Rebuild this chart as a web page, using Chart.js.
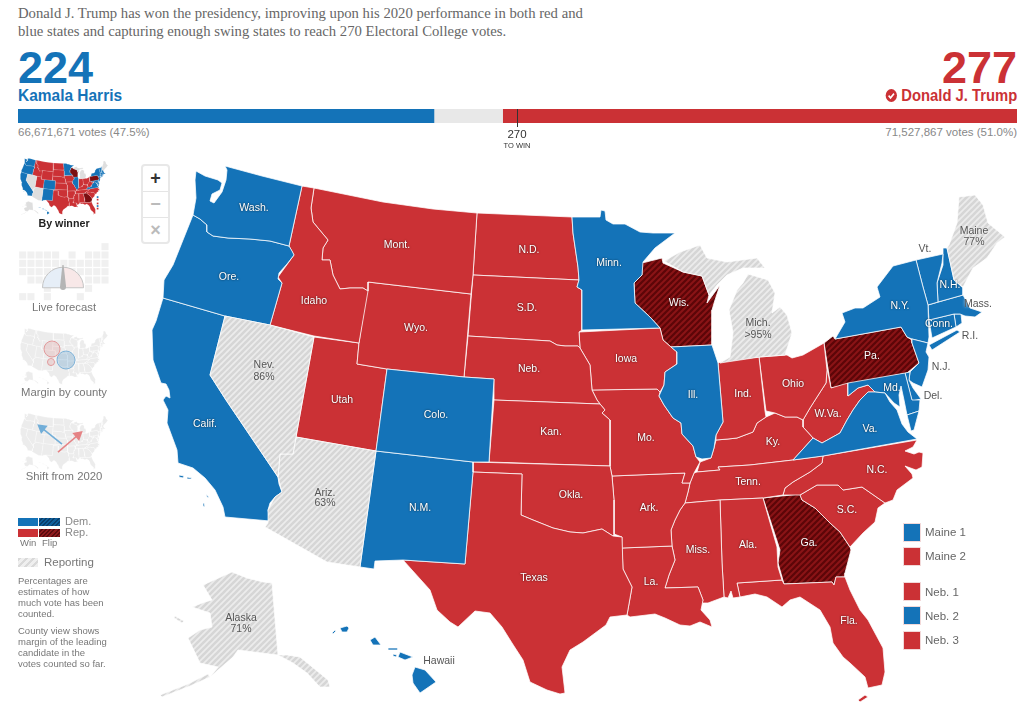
<!DOCTYPE html>
<html><head><meta charset="utf-8">
<script src="https://cdn.jsdelivr.net/npm/chart.js@4/dist/chart.umd.min.js"></script>
<style>
html,body{margin:0;padding:0;background:#fff;width:1031px;height:723px;overflow:hidden;font-family:"Liberation Sans",Arial,sans-serif}
.a{position:absolute;white-space:nowrap}
canvas{position:absolute;display:block}
.lede{left:18px;top:4px;font:14.7px/18px "Liberation Serif",serif;color:#666}
.big{font-weight:700;font-size:45px;line-height:40px;top:48px}
.name{font-weight:700;font-size:17px;line-height:18px;top:87px}
.votes{font-size:11.5px;line-height:14px;top:125px;color:#888}
.cap{font-size:11.3px;color:#777;transform:translateX(-50%);line-height:14px}
.sm{font-size:9.5px;line-height:10.9px;color:#777;left:18px}
.sw{position:absolute;width:16px;height:17px;outline:1px solid #f2d9d9}
.sl{font-size:11.5px;color:#666;left:925px;line-height:14px}
.ctl{left:141px;top:164px;width:25px;height:76px;border:2px solid #e8e8e8;border-radius:4px;background:#fff}
.ctl div{height:25px;line-height:24px;text-align:center;border-bottom:1px solid #e5e5e5;font-weight:700;color:#bbb;font-size:18px}
.ctl div:last-child{border:0}
.hd{background:repeating-linear-gradient(135deg,#0f5f9b 0 1.5px,#0b3f6b 1.5px 3px)}
.hr{background:repeating-linear-gradient(135deg,#8e1a1d 0 1.5px,#5a0b0d 1.5px 3px)}
.hg{background:repeating-linear-gradient(135deg,#d9d9d9 0 2.5px,#efefef 2.5px 5px)}
</style></head><body>
<div class="a lede">Donald J. Trump has won the presidency, improving upon his 2020 performance in both red and<br>blue states and capturing enough swing states to reach 270 Electoral College votes.</div>
<div class="a big" style="left:18px;color:#1473b8">224</div>
<div class="a big" style="right:14px;color:#cb3135">277</div>
<div class="a name" style="left:18px;color:#1473b8;transform:scaleX(.91);transform-origin:left">Kamala Harris</div>
<div class="a name" style="right:14px;color:#cb3135;transform:scaleX(.87);transform-origin:right"><svg width="15" height="13" viewBox="0 0 13 13" style="vertical-align:-1px;margin-right:4px"><circle cx="6.5" cy="6.5" r="6.5" fill="#cb3135"/><path d="M3.4 6.7l2.2 2.2 4-4.2" stroke="#fff" stroke-width="1.8" fill="none"/></svg>Donald J. Trump</div>
<canvas id="bar" width="999" height="14" style="left:18px;top:109px"></canvas>
<div class="a" style="left:517px;top:109px;width:1px;height:18px;background:#333"></div>
<div class="a votes" style="left:18px">66,671,671 votes (47.5%)</div>
<div class="a votes" style="right:14px">71,527,867 votes (51.0%)</div>
<div class="a" style="left:517px;top:127px;font-size:11.5px;line-height:14px;color:#333;transform:translateX(-50%)">270</div>
<div class="a" style="left:517px;top:141px;font-size:7.5px;line-height:10px;color:#333;transform:translateX(-50%)">TO WIN</div>

<canvas id="map" width="1031" height="723" style="left:0;top:0"></canvas>
<canvas id="t1" width="88" height="57" style="left:20px;top:158px"></canvas>
<div class="a cap" style="left:64px;top:216px;color:#222;font-weight:700;font-size:10.7px">By winner</div>
<canvas id="t2" width="100" height="62" style="left:15px;top:240px"></canvas>
<canvas id="g" width="46" height="26" style="left:40px;top:264px"></canvas>
<div class="a cap" style="left:64px;top:300px">Live forecast</div>
<canvas id="t3" width="88" height="57" style="left:20px;top:328px"></canvas>
<div class="a cap" style="left:64px;top:385px">Margin by county</div>
<canvas id="t4" width="88" height="57" style="left:20px;top:413px"></canvas>
<div class="a cap" style="left:64px;top:469px">Shift from 2020</div>

<div class="a" style="left:18px;top:518px;width:20px;height:8px;background:#1473b8"></div>
<div class="a hd" style="left:39px;top:518px;width:21px;height:8px"></div>
<div class="a" style="left:18px;top:529px;width:20px;height:8px;background:#cb3135"></div>
<div class="a hr" style="left:39px;top:529px;width:21px;height:8px"></div>
<div class="a sm" style="left:65px;top:516px;font-size:11px;color:#888">Dem.</div>
<div class="a sm" style="left:65px;top:527px;font-size:11px;color:#888">Rep.</div>
<div class="a sm" style="left:20px;top:538px">Win</div>
<div class="a sm" style="left:42px;top:538px">Flip</div>
<div class="a hg" style="left:18px;top:558px;width:20px;height:9px"></div>
<div class="a sm" style="left:44px;top:556px;font-size:11.5px;line-height:13px">Reporting</div>
<div class="a sm" style="top:576px">Percentages are<br>estimates of how<br>much vote has been<br>counted.</div>
<div class="a sm" style="top:626px">County view shows<br>margin of the leading<br>candidate in the<br>votes counted so far.</div>

<div class="a ctl"><div style="color:#333">+</div><div>−</div><div>×</div></div>

<div class="sw" style="left:904px;top:524px;background:#1473b8"></div><div class="a sl" style="top:525px">Maine 1</div>
<div class="sw" style="left:904px;top:548px;background:#cb3135"></div><div class="a sl" style="top:549px">Maine 2</div>
<div class="sw" style="left:904px;top:583px;background:#cb3135"></div><div class="a sl" style="top:585px">Neb. 1</div>
<div class="sw" style="left:904px;top:607px;background:#1473b8"></div><div class="a sl" style="top:609px">Neb. 2</div>
<div class="sw" style="left:904px;top:632px;background:#cb3135"></div><div class="a sl" style="top:633px">Neb. 3</div>

<script>
// ---------- data ----------
const evCategories=['Harris','Not called','Trump'];
const evValues=[224,37,277];
const evColours=['#1473b8','#e8e8e8','#cb3135'];

const WA=[[225,166],[262,176],[302,186],[289,246],[270,241],[250,239],[228,238],[213,236],[207,232],[207,225],[200,219],[193,215],[196,198],[195,180],[196,171],[205,176],[218,180],[222,183],[220,190],[212,194],[210,201],[214,203],[222,192],[226,180],[227,170]];
const OR=[[193,215],[200,219],[207,225],[207,232],[213,236],[228,238],[250,239],[270,241],[289,246],[292,251],[294,255],[287,264],[279,273],[278,279],[282,283],[270,325],[225,316],[163,298],[164,280],[173,265],[183,240]];
const CA=[[163,298],[225,316],[210,375],[226,400],[278,477],[279,484],[282,492],[275,497],[270,503],[268,510],[270,521],[225,517],[223,507],[215,490],[205,478],[193,468],[178,463],[177,450],[167,423],[168,410],[163,400],[166,396],[170,398],[169,390],[166,384],[161,383],[153,360],[152,330],[156,321]];
const CA2=[[179,475],[184,476],[183,478],[179,477]];
const CA3=[[187,477],[192,478],[191,479],[187,479]];
const CA4=[[206,494],[208,496],[209,498],[207,497]];
const CA5=[[203,503],[204,503],[205,507],[203,506]];
const NV=[[225,316],[270,325],[314,337],[296,437],[293,454],[280,454],[278,477],[226,400],[210,375]];
const ID=[[302,186],[314,188],[311,208],[313,222],[328,240],[323,248],[322,260],[330,260],[333,275],[340,289],[350,288],[363,288],[368,291],[359,343],[314,336],[270,325],[282,283],[278,277],[294,255],[289,246]];
const MT=[[314,188],[383,202],[433,209],[477,213],[473,275],[471,294],[368,282],[368,291],[363,288],[350,288],[340,289],[333,275],[330,260],[322,260],[323,248],[328,240],[313,222],[311,208]];
const WY=[[368,282],[471,294],[464,377],[387,369],[357,364],[359,343]];
const UT=[[314,337],[359,343],[357,364],[387,369],[376,451],[296,437]];
const CO=[[387,369],[464,377],[494,379],[489,462],[473,462],[376,451]];
const AZ=[[296,437],[376,451],[360,567],[327,562],[265,527],[268,523],[268,510],[275,497],[282,492],[278,477],[280,454],[293,454]];
const NM=[[376,451],[473,462],[473,472],[465,564],[403,560],[375,561],[374,569],[360,567]];
const TX=[[473,472],[522,474],[521,515],[533,520],[553,528],[570,532],[583,533],[602,529],[613,536],[622,537],[623,569],[632,587],[627,615],[610,617],[606,625],[583,642],[570,650],[562,667],[565,693],[560,694],[547,690],[530,682],[523,660],[512,643],[502,627],[490,613],[475,611],[458,627],[450,622],[437,610],[430,590],[403,560],[465,564]];
const OK_=[[473,462],[610,466],[612,476],[614,500],[614,534],[613,536],[602,529],[583,533],[570,532],[553,528],[533,520],[521,515],[522,474],[473,472]];
const KS=[[494,400],[600,404],[605,410],[602,413],[610,420],[610,466],[489,462]];
const NE=[[468,336],[550,341],[557,345],[565,346],[578,346],[580,348],[590,365],[592,390],[597,400],[600,404],[494,400],[494,379],[464,377]];
const SD=[[473,275],[579,280],[577,287],[582,290],[582,330],[579,332],[580,348],[578,346],[565,346],[557,345],[550,341],[468,336]];
const ND=[[477,213],[572,217],[573,233],[578,267],[579,280],[473,275]];
const MN=[[572,217],[600,217],[601,210],[605,211],[606,220],[613,224],[625,224],[640,232],[653,233],[675,233],[655,248],[643,262],[642,275],[634,283],[635,303],[650,317],[660,328],[582,330],[582,290],[577,287],[579,280],[578,267],[573,233]];
const WI=[[642,263],[662,258],[663,263],[683,272],[702,276],[709,295],[707,303],[720,285],[715,300],[712,310],[712,345],[671,347],[663,340],[660,328],[650,317],[635,303],[634,283],[642,275]];
const IA=[[579,332],[660,328],[663,340],[671,347],[677,352],[677,364],[665,372],[664,385],[660,392],[657,389],[592,390],[590,365],[580,348]];
const IL=[[671,347],[712,345],[718,363],[722,410],[723,422],[716,435],[714,448],[711,458],[702,459],[696,457],[693,446],[682,434],[681,423],[673,418],[664,405],[659,396],[664,385],[665,372],[677,364],[677,352]];
const IN=[[718,363],[727,360],[759,357],[765,411],[766,417],[757,423],[753,432],[737,438],[728,439],[716,440],[716,435],[723,422],[722,410]];
const OH=[[759,357],[787,355],[792,358],[803,355],[824,343],[827,370],[826,383],[817,397],[810,408],[803,420],[797,417],[785,417],[775,413],[766,411]];
const MI_L=[[720,363],[760,357],[785,355],[792,333],[787,315],[780,307],[772,313],[775,293],[768,280],[748,274],[743,283],[737,290],[729,310],[733,333],[730,357]];
const MI_U=[[664,261],[680,252],[700,245],[707,258],[727,262],[757,258],[765,268],[743,268],[727,275],[717,285],[709,295],[702,276],[683,272]];
const MO=[[592,390],[657,389],[660,392],[659,396],[664,405],[673,418],[681,423],[682,434],[693,446],[696,457],[700,462],[694,473],[690,483],[682,483],[685,473],[612,476],[610,466],[610,420],[602,413],[605,410],[600,404],[597,400]];
const AR=[[612,476],[685,473],[682,483],[690,483],[688,492],[685,503],[680,510],[675,520],[671,530],[672,546],[622,548],[622,537],[614,534],[614,500]];
const LA=[[622,548],[672,546],[675,560],[669,575],[665,588],[698,587],[703,600],[701,610],[710,620],[712,627],[700,622],[690,626],[680,625],[665,618],[655,614],[630,617],[627,615],[632,587],[623,569]];
const MS=[[685,503],[720,500],[722,563],[724,597],[708,603],[702,603],[703,600],[698,587],[665,588],[669,575],[675,560],[672,546],[671,530],[675,520],[680,510]];
const AL=[[720,500],[763,498],[777,547],[778,567],[782,580],[737,583],[740,597],[733,598],[731,591],[728,598],[724,597],[722,563]];
const TN=[[694,473],[697,472],[720,470],[718,467],[750,465],[793,460],[823,456],[822,463],[810,472],[793,482],[785,488],[783,495],[763,498],[720,500],[685,503],[688,492],[690,483]];
const KY=[[700,462],[711,458],[714,448],[716,440],[728,439],[737,438],[753,432],[757,423],[766,417],[775,413],[785,417],[797,417],[803,420],[803,427],[813,438],[793,460],[750,465],[718,467],[720,470],[697,472]];
const WV=[[825,358],[831,388],[848,383],[848,396],[858,388],[868,385],[875,392],[868,392],[860,400],[853,410],[847,420],[840,433],[822,443],[813,438],[803,427],[803,420],[810,408],[817,397],[826,383],[827,370]];
const MD=[[848,383],[905,373],[912,400],[920,400],[919,411],[907,415],[904,400],[901,386],[899,395],[900,407],[894,403],[885,393],[875,392],[868,385],[858,388],[848,396]];
const VA=[[793,460],[813,438],[822,443],[840,433],[847,420],[853,410],[860,400],[868,392],[875,392],[885,393],[890,402],[897,410],[902,424],[908,432],[917,439],[823,456]];
const VA2=[[907,415],[919,411],[914,430],[911,431]];
const DE=[[905,373],[910,372],[909,380],[913,388],[921,399],[912,401]];
const NJ=[[912,339],[928,343],[926,352],[929,357],[928,370],[922,387],[913,383],[909,380],[910,372],[919,363],[912,343]];
const PA=[[824,343],[833,336],[835,339],[901,327],[907,337],[912,340],[912,343],[919,363],[907,373],[831,388]];
const NY=[[835,339],[845,322],[842,313],[855,308],[863,308],[880,297],[877,287],[893,266],[916,260],[923,287],[928,305],[929,337],[928,343],[912,339],[907,337],[901,327]];
const LI=[[929,345],[957,330],[960,332],[932,350]];
const VT=[[916,260],[943,254],[942,263],[937,283],[938,302],[928,305],[923,287]];
const NH=[[943,248],[947,248],[954,280],[963,288],[963,295],[938,302],[937,283],[943,265]];
const ME=[[947,248],[949,245],[957,223],[959,197],[975,195],[983,205],[988,223],[1005,237],[997,243],[987,258],[973,268],[963,287],[954,280]];
const MA=[[928,305],[963,295],[970,308],[982,312],[975,317],[965,316],[960,314],[954,314],[929,320]];
const CT=[[929,320],[954,314],[956,327],[932,338]];
const RI=[[954,314],[961,314],[962,323],[956,327]];
const NC=[[823,456],[917,440],[913,447],[905,451],[914,454],[919,452],[923,453],[922,467],[916,470],[905,466],[912,474],[913,478],[897,490],[893,500],[885,503],[862,487],[843,490],[838,485],[817,485],[800,495],[783,495],[785,488],[793,482],[810,472],[822,463]];
const SC=[[800,495],[817,485],[838,485],[843,490],[862,487],[885,503],[878,508],[875,522],[863,533],[850,547],[840,532],[830,523],[815,508],[802,500]];
const GA=[[763,498],[800,494],[802,500],[815,508],[830,523],[840,532],[850,547],[851,550],[845,573],[845,577],[836,577],[834,585],[832,582],[784,584],[778,563],[780,550]];
const FL=[[737,583],[782,580],[784,584],[832,582],[834,585],[836,577],[845,577],[850,590],[860,610],[868,620],[883,648],[885,672],[882,685],[868,688],[865,677],[850,663],[843,657],[833,643],[830,627],[820,610],[800,597],[790,600],[782,607],[767,597],[755,594],[740,597]];
const FK=[[858,700],[865,695],[868,697],[860,702]];
const AK=[[232,572],[203,585],[212,600],[205,602],[192,607],[210,613],[212,627],[200,630],[188,638],[200,663],[218,667],[210,677],[233,657],[238,650],[278,655],[272,583],[263,582],[247,578]];
const AK2=[[278,655],[287,655],[300,657],[328,680],[330,687],[320,687],[307,673],[293,663]];
const AK3=[[210,677],[190,686],[162,697],[160,695],[188,684],[208,674]];
const AK4=[[175,616],[184,621],[182,623],[174,618]];
const HI1=[[415,667],[425,670],[436,682],[420,693],[413,683],[412,675]];
const HI2=[[400,652],[413,657],[405,660],[398,657]];
const HI3=[[388,648],[398,648],[398,650],[388,650]];
const HI4=[[370,640],[375,637],[381,645],[373,645]];
const HI5=[[340,628],[347,626],[349,628],[347,632],[342,632]];
const HI6=[[332,633],[335,630],[336,631],[333,634]];
const HI7=[[393,654],[397,655],[396,657],[393,656]];

const demStates=[WA,OR,CA,CA2,CA3,CA4,CA5,CO,NM,MN,IL,VA,VA2,MD,DE,NJ,NY,LI,VT,NH,MA,CT,RI,HI1,HI2,HI3,HI4,HI5,HI6,HI7];
const repStates=[ID,MT,WY,UT,TX,OK_,KS,NE,SD,ND,IA,IN,OH,MO,AR,LA,MS,AL,TN,KY,WV,NC,SC,FL,FK];
const flipStates=[WI,PA,GA];
const pendingStates=[NV,AZ,MI_L,MI_U,ME,AK,AK2,AK3,AK4];

const lightLabels=['Wash.','Ore.','Calif.','Idaho','Mont.','Wyo.','Utah','Colo.','N.M.','N.D.','S.D.','Neb.','Kan.','Okla.','Texas','Minn.','Iowa','Mo.','Ark.','La.','Wis.','Ill.','Ind.','Ohio','Ky.','Tenn.','Miss.','Ala.','Ga.','Fla.','S.C.','N.C.','Va.','W.Va.','Pa.','N.Y.','Md.','Conn.','N.H.'];
const lightX=[254,229,205,314,397,416,342,436,420,529,527,529,551,571,534,609,626,646,649,651,679,693,743,793,773,748,698,748,809,849,847,877,870,828,872,900,892,939,950];
const lightY=[208,277,424,301,245,328,400,415,508,250,308,369,432,495,578,263,359,438,508,582,303,395,394,384,442,482,550,545,543,621,510,470,429,414,356,306,388,324,285];
const darkLabels=['Nev.','86%','Ariz.','63%','Mich.','>95%','Maine','77%','Alaska','71%','Hawaii','Vt.','Mass.','R.I.','N.J.','Del.'];
const darkX=[264,264,325,325,758,758,974,974,241,241,439,925,978,970,941,933];
const darkY=[365,377,493,503,323,335,231,242,618,629,661,249,304,336,367,396];

const tileCols=[10,0,1,2,3,4,6,8,9,10,0,1,2,3,4,5,6,7,8,9,10,0,1,2,3,4,5,6,7,8,9,10,1,2,3,8,9,10,3,8,0,1,3,7];
const tileRows=[0,1,1,1,1,1,1,1,1,1,2,2,2,2,2,2,2,2,2,2,2,3,3,3,3,3,3,3,3,3,3,3,4,4,4,4,4,4,5,5,6,6,6,6];
const gaugeValues=[50,50];
const marginX=[461,451,597];const marginY=[363,485,466];const marginR=[8,3.5,9];
const shiftBlue=[[558,457],[364,307]];const shiftRed=[[519,532],[714,372]];
const miniKey=[[904,532],[904,556],[904,592],[904,616],[904,640]];
const miniKeyColours=['#1473b8','#cb3135','#cb3135','#1473b8','#cb3135'];

// ---------- helpers ----------
Chart.defaults.animation=false;Chart.defaults.responsive=false;Chart.defaults.devicePixelRatio=1;
Chart.defaults.layout.autoPadding=false;
Chart.defaults.plugins.legend.display=false;Chart.defaults.plugins.tooltip.enabled=false;
const pts=a=>a.concat([a[0]]).map(p=>({x:p[0],y:p[1]}));
function hatch(bg,fg,w){const c=document.createElement('canvas');c.width=c.height=6;const x=c.getContext('2d');
  x.fillStyle=bg;x.fillRect(0,0,6,6);x.strokeStyle=fg;x.lineWidth=w;
  [[-3,3,3,-3],[0,6,6,0],[3,9,9,3]].forEach(l=>{x.beginPath();x.moveTo(l[0],l[1]);x.lineTo(l[2],l[3]);x.stroke()});
  return x.createPattern(c,'repeat');}
const poly=(a,fill,line,lw)=>({type:'line',data:pts(a),parsing:false,showLine:true,fill:'shape',backgroundColor:fill,borderColor:line,borderWidth:lw,pointRadius:0,tension:0,clip:false,borderJoinStyle:'round'});
const xs=(a,b)=>({type:'linear',min:a,max:b,display:false});
const ys=(a,b)=>({type:'linear',min:a,max:b,reverse:true,display:false});

const textPlugin={id:'stateText',afterDatasetsDraw(c){const x=c.ctx,sx=c.scales.x,sy=c.scales.y;x.save();x.textAlign='center';x.textBaseline='middle';x.font='10.5px "Liberation Sans",sans-serif';
  x.fillStyle='#fff';x.shadowColor='rgba(0,0,0,.75)';x.shadowBlur=2;
  lightLabels.forEach((t,i)=>x.fillText(t,sx.getPixelForValue(lightX[i]),sy.getPixelForValue(lightY[i])));
  x.fillStyle='#555';x.shadowColor='rgba(255,255,255,.95)';x.shadowBlur=3;
  darkLabels.forEach((t,i)=>x.fillText(t,sx.getPixelForValue(darkX[i]),sy.getPixelForValue(darkY[i])));
  x.restore();}};

// ---------- top bar ----------
new Chart(document.getElementById('bar'),{type:'bar',data:{labels:['EV'],datasets:evCategories.map((n,i)=>({label:n,data:[evValues[i]],backgroundColor:evColours[i],barPercentage:1,categoryPercentage:1,borderWidth:0}))},
 options:{indexAxis:'y',scales:{x:{stacked:true,min:0,max:538,display:false},y:{stacked:true,display:false}}}});

// ---------- map ----------
const gsPending=hatch('#ececec','#d6d6d6',2.6),gsFlip=hatch('#8a1416','#5c0608',2.2);
const mapSets=[].concat(
 pendingStates.map(a=>poly(a,gsPending,'rgba(255,255,255,.9)',.8)),
 demStates.map(a=>poly(a,'#1473b8','rgba(255,255,255,.75)',1)),
 repStates.map(a=>poly(a,'#cb3135','rgba(255,255,255,.75)',1)),
 flipStates.map(a=>poly(a,gsFlip,'rgba(255,255,255,.8)',1)));
new Chart(document.getElementById('map'),{type:'line',data:{datasets:mapSets},plugins:[textPlugin],
 options:{layout:{padding:0},scales:{x:xs(0,1031),y:ys(0,723)}}});

// ---------- thumbnails ----------
const thumbX=xs(150,1005),thumbY=ys(166,700);
const allStates=[].concat(demStates,repStates,flipStates,pendingStates);
new Chart(document.getElementById('t1'),{type:'line',data:{datasets:[
  {type:'scatter',data:miniKey.map(p=>({x:p[0],y:p[1]})),parsing:false,pointStyle:'rect',pointRadius:1.2,backgroundColor:miniKeyColours,borderWidth:0},
  ...pendingStates.map(a=>poly(a,'#dedede','#fff',.2)),...demStates.map(a=>poly(a,'#1473b8','rgba(255,255,255,.5)',.25)),...repStates.map(a=>poly(a,'#cb3135','rgba(255,255,255,.5)',.25)),...flipStates.map(a=>poly(a,'#7b0f12','rgba(255,255,255,.5)',.25))]},
 options:{scales:{x:thumbX,y:thumbY}}});
const greyMap=()=>allStates.map(a=>poly(a,'#ececec','#fff',.3));
new Chart(document.getElementById('t3'),{type:'line',data:{datasets:[
  {type:'bubble',data:marginX.map((v,i)=>({x:v,y:marginY[i],r:marginR[i]})),backgroundColor:['rgba(203,49,53,.12)','rgba(203,49,53,.12)','rgba(20,115,184,.2)'],borderColor:['#e29a9c','#e29a9c','#7fb3d9'],borderWidth:1},
  ...greyMap()]},options:{scales:{x:thumbX,y:thumbY}}});
const arrow=(a,col,rot)=>({type:'line',data:a.map(p=>({x:p[0],y:p[1]})),parsing:false,borderColor:col,borderWidth:1.6,pointStyle:'triangle',pointRadius:[0,4.5],pointRotation:[0,rot],pointBackgroundColor:col,pointBorderColor:col,tension:0});
new Chart(document.getElementById('t4'),{type:'line',data:{datasets:[arrow(shiftBlue,'#72aed8',-51),arrow(shiftRed,'#e58385',50),...greyMap()]},options:{scales:{x:thumbX,y:thumbY}}});

new Chart(document.getElementById('t2'),{type:'scatter',data:{datasets:[{data:tileCols.map((c,i)=>({x:c,y:tileRows[i]})),parsing:false,pointStyle:'rect',pointRadius:5,borderWidth:0,backgroundColor:'#f0f0f0'}]},
 options:{scales:{x:{type:'linear',min:-.935,max:11.215,display:false},y:{type:'linear',min:-.8,max:6.64,reverse:true,display:false}}}});
const needle={id:'needle',afterDraw(c){const x=c.ctx,m=c.width/2,b=c.height-2;x.save();x.fillStyle='#b5b5b5';x.beginPath();x.moveTo(m-.6,1);x.lineTo(m+.6,1);x.lineTo(m+3,b-2);x.arc(m,b-1,3,0,Math.PI);x.closePath();x.fill();x.restore();}};
new Chart(document.getElementById('g'),{type:'doughnut',data:{labels:['D','R'],datasets:[{data:gaugeValues,backgroundColor:['#e6eef7','#f8e8e8'],borderColor:'#c4c4c4',borderWidth:1}]},plugins:[needle],
 options:{circumference:180,rotation:-90,cutout:'12%',layout:{padding:{top:1,left:2,right:2}}}});
</script>
</body></html>
